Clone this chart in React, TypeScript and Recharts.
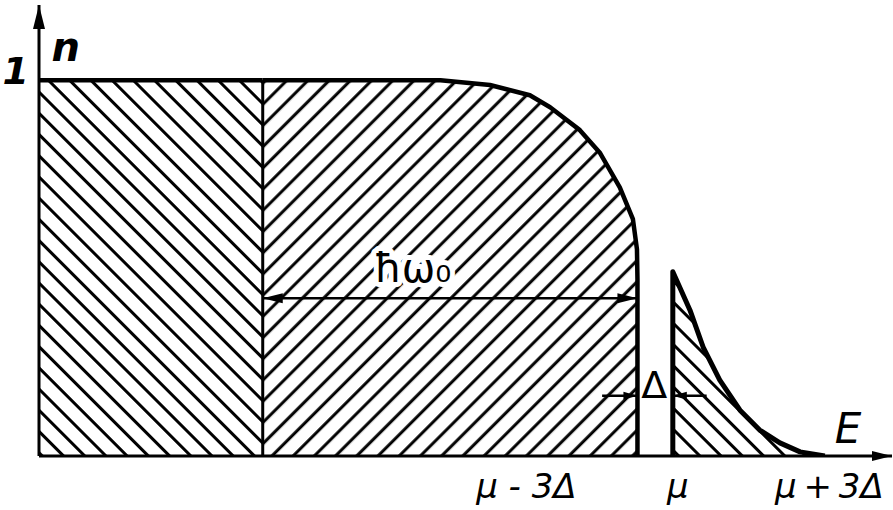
import { Area, ComposedChart, ReferenceDot, ReferenceLine, XAxis, YAxis } from 'recharts'

// Occupation n(E); energy measured from μ in units of Δ
const occupiedCore = [
  { E: -12.65, n: 1 },
  { E: -8.22, n: 1 },
]
const smearedEdge = [
  { E: -8.22, n: 1 },
  { E: -4.7, n: 1 },
  { E: -3.72, n: 0.987 },
  { E: -2.93, n: 0.96 },
  { E: -2.53, n: 0.928 },
  { E: -1.94, n: 0.867 },
  { E: -1.54, n: 0.806 },
  { E: -1.15, n: 0.715 },
  { E: -0.89, n: 0.63 },
  { E: -0.81, n: 0.55 },
  { E: -0.8, n: 0.47 },
  { E: -0.8, n: 0 },
]
const excitedTail = [
  { E: -0.1, n: 0 },
  { E: -0.1, n: 0.49 },
  { E: 0.24, n: 0.388 },
  { E: 0.5, n: 0.29 },
  { E: 0.83, n: 0.202 },
  { E: 1.23, n: 0.122 },
  { E: 1.62, n: 0.069 },
  { E: 2.02, n: 0.035 },
  { E: 2.42, n: 0.011 },
  { E: 2.91, n: 0 },
]
const tickValues = [-3, 0, 3]
const tickLabels = ['μ - 3Δ', 'μ', 'μ\u2009+\u20093Δ']

const E_MIN = -12.65
const E_MAX = 4.24
const CORE_EDGE = -8.22
const GAP_LEFT = -0.8
const GAP_RIGHT = -0.1

const hand = '"DejaVu Sans", sans-serif'
const ink = '#000'

type Heads = { start?: boolean; end?: boolean; len?: number; half?: number }

function arrowHead(x: number, y: number, fromX: number, fromY: number, len: number, half: number) {
  const dx = x - fromX
  const dy = y - fromY
  const d = Math.hypot(dx, dy) || 1
  const ux = dx / d
  const uy = dy / d
  const bx = x - ux * len
  const by = y - uy * len
  return `${x},${y} ${bx - uy * half},${by + ux * half} ${bx + uy * half},${by - ux * half}`
}

const arrow = ({ start, end, len = 18, half = 5 }: Heads, width = 2.5) => (p: any) => {
  const { x1, y1, x2, y2 } = p
  return (
    <g>
      <line x1={x1} y1={y1} x2={x2} y2={y2} stroke={ink} strokeWidth={width} />
      {end && <polygon points={arrowHead(x2, y2, x1, y1, len, half)} fill={ink} />}
      {start && <polygon points={arrowHead(x1, y1, x2, y2, len, half)} fill={ink} />}
    </g>
  )
}

const OneTick = (p: any) => (
  <text x={p.x - 2} y={p.y + 4} textAnchor="end" fontFamily={hand} fontSize={38} fontWeight="bold" fontStyle="italic" fill={ink}>
    1
  </text>
)

const textLabel = (value: string, size: number, extra: Record<string, any> = {}) => ({
  value,
  position: 'center' as const,
  fontFamily: hand,
  fontSize: size,
  fontStyle: 'italic',
  fill: ink,
  ...extra,
})

export default function App() {
  return (
    <div style={{ width: 893, height: 510, background: '#fff' }}>
      <style>{'body{margin:0}'}</style>
      <ComposedChart width={893} height={510} margin={{ top: 5, right: 1, left: 0, bottom: 0 }}>
        <defs>
          {/* 45° hatching, ~21px apart horizontally; the two tiles are offset so they meet in chevrons at the divider */}
          <pattern id="hatchBack" patternUnits="userSpaceOnUse" width={15} height={15} patternTransform="rotate(-45)">
            <line x1={7.5} y1={0} x2={7.5} y2={15} stroke={ink} strokeWidth={3} />
          </pattern>
          <pattern id="hatchFwd" patternUnits="userSpaceOnUse" width={15} height={15} patternTransform="rotate(45)">
            <line x1={4.7} y1={0} x2={4.7} y2={15} stroke={ink} strokeWidth={3} />
          </pattern>
          <pattern id="hatchTail" patternUnits="userSpaceOnUse" width={15} height={15} patternTransform="rotate(-45)">
            <line x1={7.5} y1={0} x2={7.5} y2={15} stroke={ink} strokeWidth={3} />
          </pattern>
        </defs>
        <XAxis
          dataKey="E"
          type="number"
          domain={[E_MIN, E_MAX]}
          allowDataOverflow
          ticks={tickValues}
          tickFormatter={(v: number) => tickLabels[tickValues.indexOf(v)] ?? ''}
          axisLine={false}
          tickLine={false}
          tickSize={6}
          tickMargin={12}
          height={54}
          tick={{ fontFamily: hand, fontSize: 34, fontStyle: 'italic', fill: ink }}
        />
        <YAxis
          type="number"
          domain={[0, 1.2]}
          allowDataOverflow
          ticks={[1]}
          axisLine={false}
          tickLine={false}
          width={39}
          tick={<OneTick />}
        />
        <Area data={occupiedCore} dataKey="n" type="linear" fill="url(#hatchBack)" fillOpacity={1} stroke={ink} strokeWidth={4.5} isAnimationActive={false} dot={false} activeDot={false} />
        <Area data={smearedEdge} dataKey="n" type="linear" fill="url(#hatchFwd)" fillOpacity={1} stroke={ink} strokeWidth={4.5} strokeLinejoin="round" isAnimationActive={false} dot={false} activeDot={false} />
        <Area data={excitedTail} dataKey="n" type="linear" fill="url(#hatchTail)" fillOpacity={1} stroke={ink} strokeWidth={5} strokeLinejoin="round" isAnimationActive={false} dot={false} activeDot={false} />

        {/* divider between the two hatched blocks */}
        <ReferenceLine segment={[{ x: CORE_EDGE, y: 0 }, { x: CORE_EDGE, y: 1 }]} stroke={ink} strokeWidth={3} />

        {/* axes */}
        <ReferenceLine segment={[{ x: E_MIN, y: 0 }, { x: E_MIN, y: 1.2 }]} shape={arrow({ end: true, len: 24, half: 6 }, 3)} />
        <ReferenceLine segment={[{ x: E_MIN, y: 0 }, { x: E_MAX, y: 0 }]} shape={arrow({ end: true, len: 20, half: 5 }, 3)} />

        {/* ħω0 span and Δ gap markers */}
        <ReferenceLine segment={[{ x: CORE_EDGE, y: 0.42 }, { x: GAP_LEFT, y: 0.42 }]} shape={arrow({ start: true, end: true, len: 20, half: 5 }, 2.5)} />
        <ReferenceLine segment={[{ x: -1.5, y: 0.16 }, { x: GAP_LEFT, y: 0.16 }]} shape={arrow({ end: true, len: 14, half: 4 }, 2.5)} />
        <ReferenceLine segment={[{ x: 0.57, y: 0.16 }, { x: GAP_RIGHT, y: 0.16 }]} shape={arrow({ end: true, len: 14, half: 4 }, 2.5)} />

        <ReferenceDot x={-12.12} y={1.09} r={1} fill="none" stroke="none" label={textLabel('n', 40, { fontWeight: 'bold' })} />
        <ReferenceDot x={3.37} y={0.074} r={1} fill="none" stroke="none" label={textLabel('E', 42)} />
        {/* white halo clears the hatching around the label */}
        <ReferenceDot
          x={-5.25}
          y={0.5}
          r={1}
          fill="none"
          stroke="none"
          label={textLabel('ħω₀', 40, { fontStyle: 'normal', stroke: '#fff', strokeWidth: 10, paintOrder: 'stroke', strokeLinejoin: 'round' })}
        />
        <ReferenceDot x={-0.47} y={0.19} r={1} fill="none" stroke="none" label={textLabel('Δ', 38, { fontStyle: 'normal' })} />
      </ComposedChart>
    </div>
  )
}
